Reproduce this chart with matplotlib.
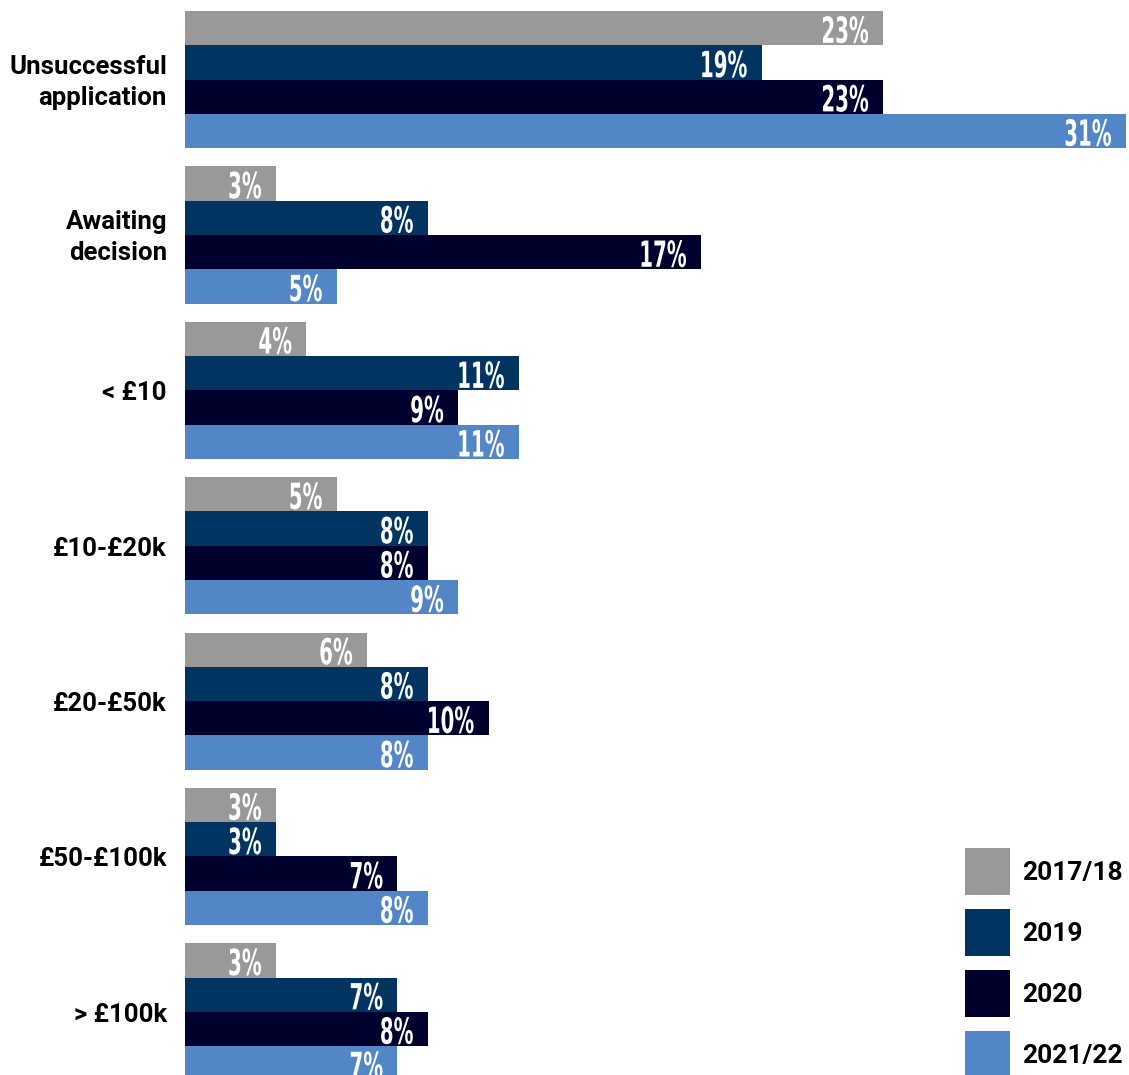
import matplotlib.pyplot as plt
from matplotlib.patches import Patch, PathPatch
from matplotlib.textpath import TextPath
from matplotlib.font_manager import FontProperties
from matplotlib.transforms import Affine2D, ScaledTranslation

# Shares of responses per outcome band, by survey year (%)
categories = ["Unsuccessful\napplication", "Awaiting\ndecision", "< £10", "£10-£20k",
              "£20-£50k", "£50-£100k", "> £100k"]
years = ["2017/18", "2019", "2020", "2021/22"]
vals_2017 = [23, 3, 4, 5, 6, 3, 3]
vals_2019 = [19, 8, 11, 8, 8, 3, 7]
vals_2020 = [23, 17, 9, 8, 10, 7, 8]
vals_2021 = [31, 5, 11, 9, 8, 8, 7]
colors = ["#999999", "#023462", "#00002e", "#5286c6"]

series = [vals_2017, vals_2019, vals_2020, vals_2021]

W, H = 1129, 1075
fig = plt.figure(figsize=(W / 100, H / 100), dpi=100)
ax = fig.add_axes([185 / W, 0, (1126 - 185) / W, 1])

label_font = FontProperties(family="DejaVu Sans", weight="bold")


def condensed_label(ax, text, x, y, size=36, squeeze=0.55, pad=15, lift=2.5):
    # narrow white label, right-aligned inside the bar end, sitting on the bar bottom
    tp = TextPath((0, 0), text, size=size, prop=label_font)
    right = tp.get_extents().x1
    tr = (Affine2D().scale(squeeze, 1).translate(-right * squeeze - pad, lift)
          + ScaledTranslation(x, y, ax.transData))
    ax.add_patch(PathPatch(tp, transform=tr, facecolor="white", edgecolor="none",
                           clip_on=False))


period = 4.53   # group spacing in bar heights
for j, (vals, col) in enumerate(zip(series, colors)):
    ys = [g * period + j for g in range(len(categories))]
    ax.barh(ys, vals, height=1.0, align="edge", color=col, edgecolor="none")
    for y, v in zip(ys, vals):
        condensed_label(ax, f"{v}%", v, y + 1)

ax.set_xlim(0, 31)
ax.set_ylim(1064 / 34.3, -11 / 34.3)
ax.axis("off")

for g, cat in enumerate(categories):
    ax.annotate(cat, xy=(0, g * period + 2), xytext=(-13, -2), textcoords="offset points",
                ha="right", va="center", fontsize=18.5, fontweight="bold",
                family="Roboto", linespacing=1.38)

handles = [Patch(facecolor=c, edgecolor="none") for c in colors]
fig.legend(handles, years, loc="lower left", bbox_to_anchor=(965 / W, -3 / H),
           frameon=False, prop={"family": "Roboto", "weight": "bold", "size": 19},
           handlelength=1.7, handleheight=2.36, handletextpad=0.45, labelspacing=0.53,
           borderpad=0, borderaxespad=0)

fig.savefig("out.png", dpi=100)
